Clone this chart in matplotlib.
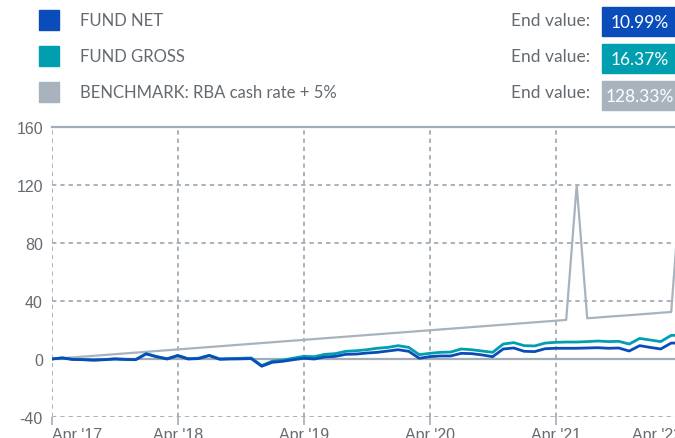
import matplotlib
matplotlib.use("Agg")
import matplotlib.pyplot as plt
from matplotlib.patches import Rectangle

# monthly points, Apr '17 (0) .. Apr '22 (60)
fund_net = [0.0, 0.7, -0.3, -0.5, -0.8, -0.5, 0.0, -0.3, -0.5, 3.5,
            1.5, 0.0, 2.3, 0.0, 0.3, 2.3, -0.2, 0.0, 0.1, 0.3,
            -5.0, -2.3, -1.6, -0.5, 0.5, 0.0, 1.4, 1.8, 3.2, 3.4,
            4.1, 4.6, 5.5, 6.4, 5.3, 0.5, 1.6, 2.1, 2.1, 3.9,
            3.7, 2.8, 1.6, 6.9, 7.6, 5.3, 5.1, 7.1, 7.4, 7.4,
            7.4, 7.6, 7.8, 7.4, 7.6, 5.5, 9.2, 8.0, 6.9, 11.0,
            10.99]
fund_gross = [0.0, 0.8, -0.2, -0.4, -0.7, -0.4, 0.1, -0.2, -0.3, 3.7,
              1.7, 0.2, 2.5, 0.2, 0.6, 2.6, 0.1, 0.3, 0.5, 0.7,
              -4.5, -1.5, -0.8, 0.6, 1.8, 1.6, 3.2, 3.7, 5.3, 5.7,
              6.4, 7.4, 8.0, 9.2, 8.0, 3.0, 3.9, 4.6, 4.8, 6.9,
              6.4, 5.5, 4.6, 10.3, 11.3, 9.2, 9.0, 11.0, 11.5, 11.7,
              11.7, 12.0, 12.4, 12.0, 12.2, 10.3, 14.2, 13.1, 12.0, 16.3,
              16.37]
benchmark = [0.0, 0.55, 1.1, 1.65, 2.2, 2.75, 3.3, 3.85, 4.4, 4.95,
             5.5, 6.05, 6.6, 7.15, 7.7, 8.25, 8.8, 9.35, 9.9, 10.45,
             11.0, 11.55, 12.1, 12.65, 13.2, 13.75, 14.3, 14.85, 15.4, 15.95,
             16.5, 17.05, 17.6, 18.15, 18.7, 19.25, 19.8, 20.35, 20.9, 21.45,
             22.0, 22.55, 23.1, 23.65, 24.2, 24.75, 25.3, 25.85, 26.4, 26.95,
             120.0, 28.1, 28.6, 29.2, 29.7, 30.2, 30.8, 31.3, 31.9, 32.4,
             128.33]
months = list(range(len(fund_net)))

tick_pos = [0, 12, 24, 36, 48, 60]
tick_labels = ["Apr '17", "Apr '18", "Apr '19", "Apr '20", "Apr '21", "Apr '22"]
y_ticks = [-40, 0, 40, 80, 120, 160]

series_names = ["FUND NET", "FUND GROSS", "BENCHMARK: RBA cash rate + 5%"]
end_values = ["10.99%", "16.37%", "128.33%"]
colors = ["#0a4cb9", "#009fb0", "#a8b3bd"]

GRID = "#a3adb8"
TXT = "#646a70"
W, H = 675, 439

fig = plt.figure(figsize=(6.75, 4.39), dpi=100)


def fx(px):
    return px / W


def fy(py):
    return 1 - py / H


# plot area runs a little past the right edge of the picture
ax = fig.add_axes([fx(51.7), fy(418), 630 / W, 290 / H])
ax.set_xlim(0, 60)
ax.set_ylim(-40, 160)
for s in ax.spines.values():
    s.set_visible(False)

dash = (0, (2.4, 2.2))
for v in [-40, 40, 80, 120]:
    ax.axhline(v, color=GRID, lw=1.3, ls=dash, zorder=0)
for t in tick_pos:
    ax.axvline(t, color=GRID, lw=1.3, ls=dash, zorder=0)
ax.axhline(160, color=GRID, lw=1.6, zorder=1, clip_on=False)
ax.axhline(0, color=GRID, lw=1.6, zorder=1)

ax.plot(months, benchmark, color=colors[2], lw=1.6, zorder=3)
ax.plot(months, fund_gross, color=colors[1], lw=2.0, zorder=4)
ax.plot(months, fund_net, color=colors[0], lw=2.0, zorder=5)

ax.set_yticks(y_ticks)
ax.set_yticklabels([str(v) for v in y_ticks], family="Liberation Sans",
                   fontsize=11.5, color=TXT)
ax.tick_params(axis="y", length=0, pad=6.3)
ax.set_xticks(tick_pos)
ax.set_xticklabels(tick_labels, family="Liberation Sans", fontsize=11.5, color=TXT)
ax.tick_params(axis="x", length=5.5, width=1.2, color=GRID, pad=2)
xl = ax.get_xticklabels()
xl[0].set_horizontalalignment("left")
xl[-1].set_horizontalalignment("right")

# legend rows with end values
row_y = [20.5, 56.7, 93.3]
box_y = [22.8, 59.5, 96.7]
for name, val, c, ty, by in zip(series_names, end_values, colors, row_y, box_y):
    fig.patches.append(Rectangle((fx(38.7), fy(ty + 10)), 20.3 / W, 20 / H,
                                 transform=fig.transFigure, color=c))
    fig.text(fx(80), fy(ty), name, family="Lato", fontsize=12, color=TXT,
             ha="left", va="center")
    fig.text(fx(590), fy(ty), "End value:", family="Lato", fontsize=12.5,
             color=TXT, ha="right", va="center")
    fig.patches.append(Rectangle((fx(602), fy(by + 14.5)), 90 / W, 29 / H,
                                 transform=fig.transFigure, color=c))
    fig.text(fx(640), fy(by + 0.5), val, family="Lato", fontsize=12.5,
             color="white", ha="center", va="center")

fig.savefig("out.png", dpi=100)
